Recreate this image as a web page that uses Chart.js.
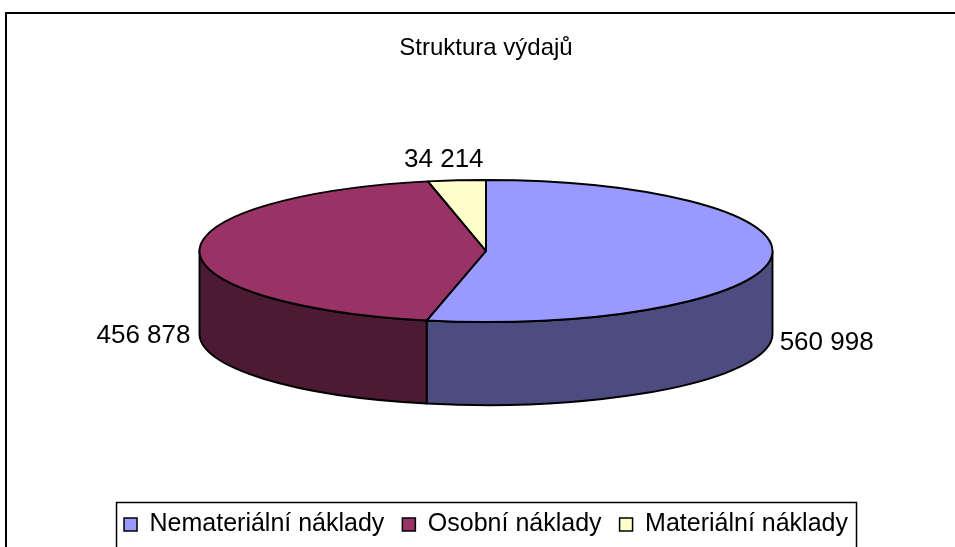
<!DOCTYPE html>
<html><head><meta charset="utf-8">
<script src="https://cdn.jsdelivr.net/npm/chart.js@4/dist/chart.umd.min.js"></script>
<style>html,body{margin:0;padding:0;background:#fff;overflow:hidden}#wrap{width:955px;height:547px;position:relative}</style>
</head><body><div id="wrap"><canvas id="c" width="955" height="547"></canvas></div>
<script>
const categories = ['Nemateriální náklady', 'Osobní náklady', 'Materiální náklady'];
const values = [560998, 456878, 34214];
const topColors = ['#9999FF', '#993366', '#FFFFCC'];
const sideColors = ['#4C4C80', '#4C1A33', '#808066'];
const chartTitle = 'Struktura výdajů';

const SQUASH = 0.248;
const DEPTH = 83;
const FONT = '"Liberation Sans", Arial, sans-serif';
const LABEL_SIZE = 26;

function fmt(v){ return String(v).replace(/\B(?=(\d{3})+(?!\d))/g, ' '); }

const pie3d = {
  id: 'pie3d',
  beforeDatasetsDraw(chart){
    const ctx = chart.ctx;
    const meta = chart.getDatasetMeta(0);
    const el0 = meta.data[0];
    const cx = el0.x, cy = el0.y, R = el0.outerRadius;
    meta.data.forEach((el, i) => {
      const lo = Math.max(el.startAngle, 0), hi = Math.min(el.endAngle, Math.PI);
      if (lo >= hi) return;
      ctx.save();
      ctx.beginPath();
      ctx.ellipse(cx, cy, R, R*SQUASH, 0, lo, hi, false);
      ctx.lineTo(cx + R*Math.cos(hi), cy + R*SQUASH*Math.sin(hi) + DEPTH);
      ctx.ellipse(cx, cy + DEPTH, R, R*SQUASH, 0, hi, lo, true);
      ctx.closePath();
      ctx.fillStyle = sideColors[i];
      ctx.fill();
      ctx.lineWidth = 1.9; ctx.strokeStyle = '#000'; ctx.lineJoin = 'round';
      ctx.stroke();
      ctx.restore();
    });
    ctx.save();
    ctx.translate(cx, cy); ctx.scale(1, SQUASH); ctx.translate(-cx, -cy);
  },
  afterDatasetsDraw(chart){
    const ctx = chart.ctx;
    ctx.restore();
    const meta = chart.getDatasetMeta(0);
    meta.data.forEach((el) => {
      const cx = el.x, cy = el.y, R = el.outerRadius;
      ctx.save();
      ctx.beginPath();
      ctx.moveTo(cx, cy);
      ctx.ellipse(cx, cy, R, R*SQUASH, 0, el.startAngle, el.endAngle, false);
      ctx.closePath();
      ctx.lineWidth = 1.9; ctx.strokeStyle = '#000'; ctx.lineJoin = 'round';
      ctx.stroke();
      ctx.restore();
    });
    ctx.save();
    ctx.font = LABEL_SIZE + 'px ' + FONT;
    ctx.fillStyle = '#000';
    ctx.textBaseline = 'middle';
    ctx.textAlign = 'left';
    meta.data.forEach((el, i) => {
      const mid = (el.startAngle + el.endAngle) / 2;
      const c = Math.cos(mid), s = Math.sin(mid);
      const R = el.outerRadius, gap = 9;
      const txt = fmt(values[i]);
      const w = ctx.measureText(txt).width;
      const ax = el.x + (R + gap) * c;
      const x = ax - w * (1 - c) / 2 - (Math.abs(c) < 0.5 ? 8 : 0);
      const y = el.y + R*SQUASH*s + (DEPTH + 2)*c*c - (s < 0 ? 22*s*s : 0);
      ctx.fillText(txt, x, y);
    });
    ctx.restore();
  },
  afterDraw(chart){
    const ctx = chart.ctx;
    ctx.save();
    ctx.fillStyle = '#000';
    ctx.fillRect(5, 12, 950, 2);
    ctx.fillRect(5, 12, 2, 535);
    const lg = chart.legend;
    const hb = lg.legendHitBoxes;
    if (hb && hb.length) {
      const left = Math.min(...hb.map(h => h.left)) - 8;
      const right = Math.max(...hb.map(h => h.left + h.width)) + 8;
      const top = hb[0].top - 10;
      ctx.strokeStyle = '#000'; ctx.lineWidth = 1.5;
      ctx.strokeRect(Math.round(left) + 0.5, Math.round(top) + 0.5, Math.round(right - left), 100);
    }
    ctx.restore();
  }
};

const baseGen = Chart.overrides.pie.plugins.legend.labels.generateLabels;

new Chart(document.getElementById('c'), {
  type: 'pie',
  data: {
    labels: categories,
    datasets: [{
      data: values,
      backgroundColor: topColors,
      borderWidth: 0,
      clip: false
    }]
  },
  options: {
    responsive: false,
    animation: false,
    events: [],
    radius: 286.5,
    layout: { padding: { left: 17, right: 0, top: 12, bottom: 0 } },
    plugins: {
      tooltip: { enabled: false },
      title: {
        display: true, text: chartTitle, color: '#000',
        font: { family: FONT, size: 24, weight: 'normal' },
        padding: { top: 21.6, bottom: 0 }
      },
      subtitle: {
        display: true, text: '', position: 'bottom', weight: 500,
        font: { size: 10 }, padding: { top: 42.4, bottom: 0 }
      },
      legend: {
        position: 'bottom',
        labels: {
          color: '#000',
          font: { family: FONT, size: 25 },
          boxWidth: 13, boxHeight: 13, padding: 18,
          generateLabels: (chart) => baseGen(chart).map(l => Object.assign(l, { strokeStyle: '#000', lineWidth: 1.5 }))
        }
      }
    }
  },
  plugins: [pie3d]
});
</script>
</body></html>
